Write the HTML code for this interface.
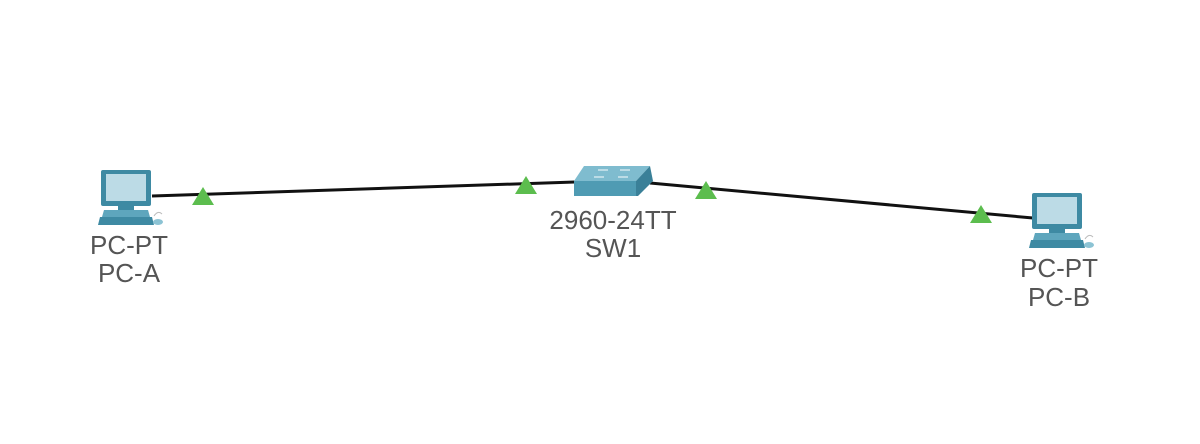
<!DOCTYPE html>
<html><head><meta charset="utf-8"><style>
body{margin:0;background:#fff;width:1200px;height:444px;overflow:hidden}
svg{display:block}
text{font-family:"Liberation Sans",Arial,sans-serif;font-size:26px;fill:#555;text-anchor:middle}
</style></head><body>
<svg width="1200" height="444" viewBox="0 0 1200 444">
<defs>
<g id="pc">
  <rect x="3" y="0" width="50" height="36" rx="2" fill="#3e8aa3"/>
  <rect x="8" y="4" width="40" height="27" fill="#bcdbe6"/>
  <rect x="20" y="36" width="16" height="4" fill="#3e8aa3"/>
  <polygon points="6,40 50,40 52,47 4,47" fill="#5ea6bd"/>
  <polygon points="2,47 54,47 56,55 0,55" fill="#3e8aa3"/>
  <ellipse cx="60" cy="52" rx="5" ry="3" fill="#8cc3d4"/>
  <path d="M56 46 q4 -6 8 -2" stroke="#bbb" fill="none" stroke-width="1"/>
</g>
</defs>
<line x1="152" y1="196" x2="575" y2="182" stroke="#111" stroke-width="3"/>
<line x1="650" y1="183" x2="1033" y2="218" stroke="#111" stroke-width="3"/>
<use href="#pc" x="98" y="170"/>
<use href="#pc" x="1029" y="193"/>
<polygon points="584,166 650,166 636,181 574,181" fill="#7fbccf"/>
<polygon points="574,181 636,181 636,196 574,196" fill="#4f9bb3"/>
<polygon points="636,181 650,166 653,181 638,196 636,196" fill="#3a8098"/>
<g stroke="#fff" stroke-width="1.2" opacity="0.8">
<line x1="598" y1="170" x2="608" y2="170"/><line x1="620" y1="170" x2="630" y2="170"/>
<line x1="594" y1="177" x2="604" y2="177"/><line x1="618" y1="177" x2="628" y2="177"/>
</g>
<g fill="#5cbd4e">
<polygon points="203,187 214,205 192,205"/>
<polygon points="526,176 537,194 515,194"/>
<polygon points="706,181 717,199 695,199"/>
<polygon points="981,205 992,223 970,223"/>
</g>
<text x="129" y="254">PC-PT</text>
<text x="129" y="282">PC-A</text>
<text x="613" y="229">2960-24TT</text>
<text x="613" y="257">SW1</text>
<text x="1059" y="277">PC-PT</text>
<text x="1059" y="306">PC-B</text>
</svg>
</body></html>
